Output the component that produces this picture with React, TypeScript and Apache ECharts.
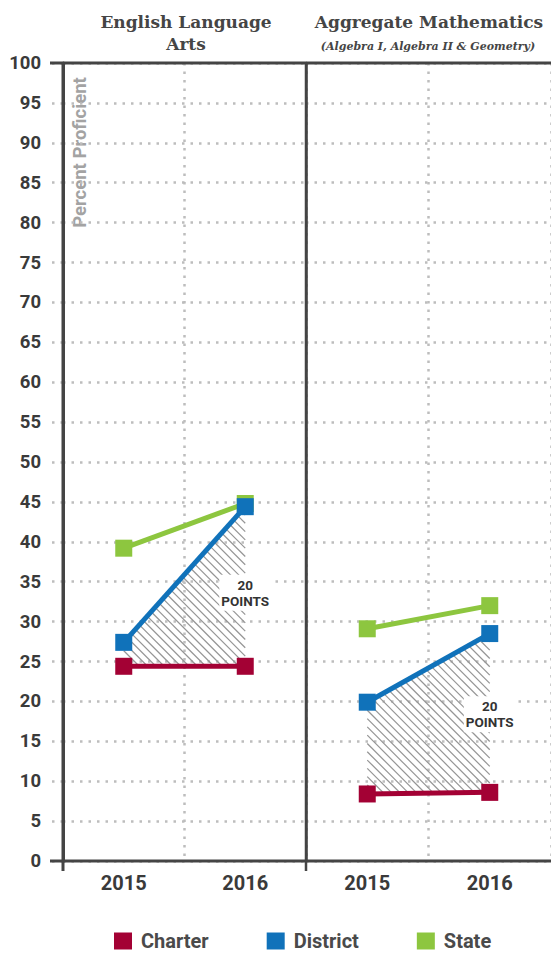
import React, { useEffect, useRef } from 'react';
import * as echarts from 'echarts';

const years = ['2015', '2016'];
const seriesNames = ['Charter', 'District', 'State'];
const elaCharter = [24.4, 24.4];
const elaDistrict = [27.4, 44.4];
const elaState = [39.2, 44.8];
const mathCharter = [8.4, 8.6];
const mathDistrict = [19.9, 28.5];
const mathState = [29.1, 32.0];
const gapText = '20\nPOINTS';
const elaGapLabelY = 33.6;
const mathGapLabelY = 18.4;

const COLORS = { Charter: '#A30134', District: '#1072BA', State: '#8DC63F' };
const SANS = 'Roboto, "Liberation Sans", sans-serif';
const DARK = '#444444';
const DOT = '#bdbdbd';

function hatch(charter: number[], district: number[], labelY: number) {
  return (params: any, api: any) => {
    if (params.dataIndex !== 0) return null;
    const p0 = api.coord([0, district[0]]);
    const q0 = api.coord([0, charter[0]]);
    const p1 = api.coord([1, district[1]]);
    const q1 = api.coord([1, charter[1]]);
    const x0 = p0[0], x1 = p1[0];
    const bt = (p1[1] - p0[1]) / (x1 - x0);
    const at = p0[1] - bt * x0;
    const bb = (q1[1] - q0[1]) / (x1 - x0);
    const ab = q0[1] - bb * x0;
    const cs = [p0[1] - x0, p1[1] - x1, q0[1] - x0, q1[1] - x1];
    const cMin = Math.min(...cs), cMax = Math.max(...cs);
    const step = 8.3;
    const children: any[] = [];
    for (let c = cMin - step; c <= cMax + step; c += step) {
      let lo = x0, hi = x1;
      const k1 = 1 - bt, r1 = at - c;
      if (Math.abs(k1) < 1e-9) { if (r1 > 0) continue; }
      else if (k1 > 0) lo = Math.max(lo, r1 / k1);
      else hi = Math.min(hi, r1 / k1);
      const k2 = 1 - bb, r2 = ab - c;
      if (Math.abs(k2) < 1e-9) { if (r2 < 0) continue; }
      else if (k2 > 0) hi = Math.min(hi, r2 / k2);
      else lo = Math.max(lo, r2 / k2);
      if (hi - lo < 0.5) continue;
      children.push({
        type: 'line',
        shape: { x1: lo, y1: lo + c, x2: hi, y2: hi + c },
        style: { stroke: '#959595', lineWidth: 1.2 },
      });
    }
    const lp = api.coord([1, labelY]);
    children.push({
      type: 'text',
      x: lp[0],
      y: lp[1],
      style: {
        text: gapText,
        fill: '#333333',
        font: `bold 13.5px ${SANS}`,
        align: 'center',
        verticalAlign: 'middle',
        lineHeight: 16,
        backgroundColor: '#ffffff',
        padding: [2, 2],
      },
    });
    return { type: 'group', children };
  };
}

function lineSeries(name: string, data: number[], idx: number) {
  const color = (COLORS as any)[name];
  return {
    type: 'line',
    name,
    data,
    xAxisIndex: idx,
    yAxisIndex: idx,
    symbol: 'rect',
    symbolSize: 17,
    lineStyle: { color, width: 5 },
    itemStyle: { color },
    z: 3,
  };
}

function axesFor(idx: number) {
  const x = {
    type: 'category',
    gridIndex: idx,
    data: years,
    boundaryGap: true,
    axisLine: { show: false },
    axisTick: { show: false },
    axisLabel: {
      margin: 12,
      fontFamily: SANS,
      fontWeight: 'bold',
      fontSize: 20,
      color: '#3a3a3a',
    },
    splitLine: { show: true, lineStyle: { color: DOT, width: 2.5, type: [2.5, 6] } },
  };
  const y = {
    type: 'value',
    gridIndex: idx,
    min: 0,
    max: 100,
    interval: 5,
    axisLine: { show: true, lineStyle: { color: DARK, width: idx === 0 ? 3 : 2.5 } },
    axisTick: idx === 0
      ? { show: true, length: 12, lineStyle: { color: DOT, width: 2.5, type: [2.5, 6] } }
      : { show: false },
    axisLabel: idx === 0
      ? { show: true, margin: 22, fontFamily: SANS, fontWeight: 'bold', fontSize: 18.5, color: '#3a3a3a' }
      : { show: false },
    splitLine: { show: true, lineStyle: { color: DOT, width: 2.5, type: [2.5, 6] } },
  };
  return { x, y };
}

export default function App() {
  const ref = useRef<HTMLDivElement>(null);
  useEffect(() => {
    document.body.style.margin = '0';
    const chart = echarts.init(ref.current!, undefined, { renderer: 'svg' });
    const a0 = axesFor(0);
    const a1 = axesFor(1);
    const option: any = {
      animation: false,
      backgroundColor: '#ffffff',
      grid: [
        { left: 63, top: 63, width: 243, height: 798, outerBoundsMode: 'none' },
        { left: 306, top: 63, width: 245, height: 798, outerBoundsMode: 'none' },
      ],
      xAxis: [a0.x, a1.x],
      yAxis: [a0.y, a1.y],
      legend: {
        data: seriesNames.map((n) => ({ name: n, icon: 'rect' })),
        left: 114,
        top: 931,
        padding: 0,
        itemWidth: 18,
        itemHeight: 17,
        itemGap: 58,
        selectedMode: false,
        textStyle: {
          fontFamily: SANS,
          fontWeight: 'bold',
          fontSize: 20,
          lineHeight: 18,
          color: '#4a4a4a',
          padding: [0, 0, 0, 4],
        },
      },
      series: [
        {
          type: 'custom',
          xAxisIndex: 0,
          yAxisIndex: 0,
          z: 1,
          data: [[0, elaCharter[0], elaDistrict[0]], [1, elaCharter[1], elaDistrict[1]]],
          encode: { x: 0, y: [1, 2] },
          renderItem: hatch(elaCharter, elaDistrict, elaGapLabelY),
        },
        {
          type: 'custom',
          xAxisIndex: 1,
          yAxisIndex: 1,
          z: 1,
          data: [[0, mathCharter[0], mathDistrict[0]], [1, mathCharter[1], mathDistrict[1]]],
          encode: { x: 0, y: [1, 2] },
          renderItem: hatch(mathCharter, mathDistrict, mathGapLabelY),
        },
        lineSeries('State', elaState, 0),
        lineSeries('Charter', elaCharter, 0),
        lineSeries('District', elaDistrict, 0),
        lineSeries('State', mathState, 1),
        lineSeries('Charter', mathCharter, 1),
        lineSeries('District', mathDistrict, 1),
      ],
      graphic: [
        { type: 'line', z: 10, shape: { x1: 50, y1: 63, x2: 551, y2: 63 }, style: { stroke: DARK, lineWidth: 3 } },
        { type: 'line', z: 10, shape: { x1: 50, y1: 861, x2: 551, y2: 861 }, style: { stroke: DARK, lineWidth: 3 } },
        { type: 'line', z: 10, shape: { x1: 63, y1: 63, x2: 63, y2: 871 }, style: { stroke: DARK, lineWidth: 3 } },
        { type: 'line', z: 10, shape: { x1: 306, y1: 63, x2: 306, y2: 871 }, style: { stroke: DARK, lineWidth: 2.5 } },
        {
          type: 'text',
          x: 80,
          y: 152.5,
          rotation: Math.PI / 2,
          style: {
            text: 'Percent Proficient',
            font: `bold 18.5px ${SANS}`,
            fill: '#a3a3a3',
            align: 'center',
            verticalAlign: 'middle',
          },
        },
        {
          type: 'text',
          x: 186,
          y: 33,
          style: {
            text: 'English Language\nArts',
            font: 'bold 17px "DejaVu Serif"',
            fill: '#454545',
            align: 'center',
            verticalAlign: 'middle',
            lineHeight: 22,
          },
        },
        {
          type: 'text',
          x: 429,
          y: 22,
          style: {
            text: 'Aggregate Mathematics',
            font: 'bold 17px "DejaVu Serif"',
            fill: '#454545',
            align: 'center',
            verticalAlign: 'middle',
          },
        },
        {
          type: 'text',
          x: 428,
          y: 46,
          style: {
            text: '(Algebra I, Algebra II & Geometry)',
            font: 'italic bold 11px "DejaVu Serif"',
            fill: '#454545',
            align: 'center',
            verticalAlign: 'middle',
          },
        },
      ],
    };
    chart.setOption(option);
    return () => chart.dispose();
  }, []);
  return <div ref={ref} style={{ width: 551, height: 954 }} />;
}
